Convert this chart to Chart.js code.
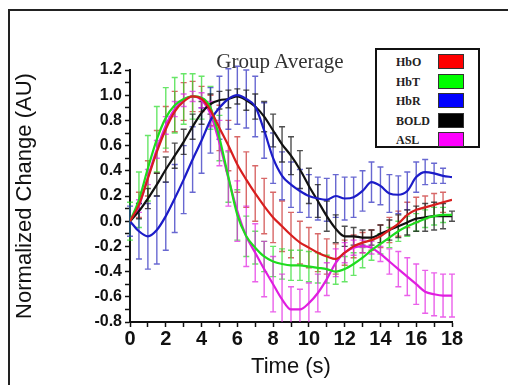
<!DOCTYPE html>
<html>
<head>
<meta charset="utf-8">
<script src="https://cdn.jsdelivr.net/npm/chart.js@4"></script>
<style>
  html, body { margin: 0; background: #fff; overflow: hidden; }
  #wrap { position: relative; width: 508px; height: 385px; overflow: hidden; }
  #title { position: absolute; left: 180px; width: 200px; top: 49px; text-align: center;
           font: 21px "Liberation Serif", "Times New Roman", serif; color: #333; }
  #legend { position: absolute; left: 375px; top: 48px; width: 101px; height: 96px;
            border: 2px solid #111; background: #fff; }
  .row { position: absolute; left: 0; height: 16px; width: 101px; }
  .row span { position: absolute; left: 19px; top: 1px; font: bold 12px "Liberation Serif", serif; color: #222; }
  .row i { position: absolute; left: 61px; top: 0; width: 24px; height: 13px; border: 1px solid #333; }
</style>
</head>
<body>
<div id="wrap">
  <canvas id="chart" width="508" height="385"></canvas>
  <div id="title">Group Average</div>
  <div id="legend"></div>
</div>
<script>
// time axis, every 0.5 s
const times = [0,0.5,1,1.5,2,2.5,3,3.5,4,4.5,5,5.5,6,6.5,7,7.5,8,8.5,9,9.5,10,10.5,11,11.5,12,12.5,13,13.5,14,14.5,15,15.5,16,16.5,17,17.5,18];

const hbo = [0,0.13,0.34,0.55,0.73,0.87,0.95,0.99,0.97,0.88,0.74,0.6,0.45,0.33,0.22,0.12,0.03,-0.04,-0.11,-0.17,-0.21,-0.25,-0.28,-0.3,-0.25,-0.2,-0.17,-0.15,-0.12,-0.07,-0.02,0.05,0.09,0.11,0.13,0.15,0.17];
const hbt = [0,0.17,0.42,0.65,0.82,0.92,0.97,0.99,0.98,0.9,0.66,0.35,0.05,-0.12,-0.21,-0.28,-0.32,-0.34,-0.35,-0.35,-0.36,-0.37,-0.38,-0.4,-0.38,-0.34,-0.29,-0.23,-0.18,-0.13,-0.08,-0.04,-0.01,0.02,0.04,0.05,0.05];
const hbr = [0,-0.08,-0.12,-0.07,0.04,0.18,0.33,0.49,0.64,0.8,0.9,0.97,1.0,0.97,0.91,0.72,0.5,0.36,0.29,0.24,0.2,0.18,0.17,0.2,0.18,0.19,0.24,0.31,0.28,0.22,0.21,0.24,0.35,0.39,0.38,0.36,0.35];
const bold = [0,0.08,0.18,0.29,0.41,0.52,0.63,0.75,0.86,0.93,0.96,0.97,0.99,0.96,0.91,0.83,0.72,0.61,0.52,0.41,0.28,0.16,0.04,-0.06,-0.12,-0.12,-0.13,-0.13,-0.1,-0.07,-0.04,-0.01,0.02,0.03,0.04,0.04,0.04];
const asl = [0,0.12,0.35,0.57,0.76,0.89,0.96,0.99,0.96,0.85,0.62,0.34,0.08,-0.12,-0.25,-0.38,-0.5,-0.62,-0.7,-0.7,-0.65,-0.57,-0.46,-0.33,-0.25,-0.21,-0.2,-0.21,-0.26,-0.32,-0.38,-0.44,-0.5,-0.56,-0.58,-0.59,-0.59];

// error bar half lengths
const hboErr = [0,0.1,0.14,0.17,0.18,0.16,0.15,0.12,0.1,0.12,0.18,0.2,0.22,0.22,0.22,0.22,0.2,0.2,0.18,0.17,0.16,0.15,0.14,0.12,0.1,0.09,0.08,0.08,0.09,0.1,0.1,0.1,0.1,0.09,0.09,0.08,0];
const hbtErr = [0.15,0.22,0.26,0.26,0.24,0.22,0.2,0.18,0.17,0.17,0.18,0.2,0.2,0.16,0.13,0.12,0.12,0.12,0.12,0.12,0.12,0.12,0.11,0.1,0.1,0.09,0.08,0.08,0.08,0.08,0.08,0.08,0.07,0.07,0.07,0.06,0];
const hbrErr = [0.12,0.22,0.26,0.27,0.27,0.27,0.27,0.26,0.26,0.26,0.25,0.24,0.23,0.23,0.24,0.22,0.2,0.19,0.18,0.17,0.17,0.17,0.17,0.17,0.17,0.16,0.16,0.16,0.15,0.15,0.15,0.15,0.12,0.1,0.08,0.06,0];
const boldErr = [0,0.06,0.08,0.09,0.1,0.1,0.1,0.1,0.09,0.08,0.07,0.07,0.06,0.08,0.1,0.12,0.13,0.14,0.15,0.15,0.14,0.13,0.12,0.11,0.08,0.07,0.06,0.06,0.07,0.08,0.09,0.1,0.1,0.11,0.11,0.1,0.04];
const aslErr = [0,0.05,0.06,0.07,0.07,0.06,0.05,0.04,0.06,0.1,0.18,0.22,0.24,0.24,0.23,0.22,0.22,0.2,0.18,0.16,0.16,0.15,0.13,0.11,0.08,0.06,0.05,0.05,0.06,0.1,0.14,0.15,0.16,0.17,0.17,0.17,0.17];

const names = ['HbO', 'HbT', 'HbR', 'BOLD', 'ASL'];
const series = [hbo, hbt, hbr, bold, asl];
const errs = [hboErr, hbtErr, hbrErr, boldErr, aslErr];
const swatch = ['#ff0000', '#00ff00', '#0000ff', '#000000', '#ff00ff'];
const lineCol = ['#d81e1e', '#1edc1e', '#1c1cc8', '#111111', '#e01ee0'];
const barCol = ['rgba(200,40,40,0.7)', 'rgba(40,220,40,0.7)', 'rgba(40,40,190,0.7)', 'rgba(20,20,20,0.75)', 'rgba(225,30,225,0.7)'];

const yTicks = [-0.8, -0.6, -0.4, -0.2, 0, 0.2, 0.4, 0.6, 0.8, 1.0, 1.2];
const xTicks = [0, 2, 4, 6, 8, 10, 12, 14, 16, 18];

// open frame round the figure (top and left edges only)
const frame = {
    id: 'frame',
    beforeDraw(chart) {
        const ctx = chart.ctx;
        ctx.save();
        ctx.strokeStyle = '#222';
        ctx.lineWidth = 2;
        ctx.beginPath();
        ctx.moveTo(9, chart.height);
        ctx.lineTo(9, 10);
        ctx.lineTo(chart.width, 10);
        ctx.stroke();
        ctx.restore();
    }
};

const errorBars = {
    id: 'errorBars',
    beforeDatasetsDraw(chart) {
        const ctx = chart.ctx;
        const ys = chart.scales.y;
        const area = chart.chartArea;
        ctx.save();
        ctx.beginPath();
        ctx.rect(area.left - 4, area.top - 10, area.right - area.left + 8, area.bottom - area.top + 10);
        ctx.clip();
        chart.data.datasets.forEach((ds, i) => {
            const meta = chart.getDatasetMeta(i);
            ctx.strokeStyle = ds.barColor;
            ctx.lineWidth = 1.4;
            meta.data.forEach((pt, j) => {
                const e = ds.errors[j];
                if (!e) return;
                const v = ds.data[j].y;
                const top = ys.getPixelForValue(v + e);
                const bot = ys.getPixelForValue(v - e);
                ctx.beginPath();
                ctx.moveTo(pt.x, top); ctx.lineTo(pt.x, bot);
                ctx.moveTo(pt.x - 3, top); ctx.lineTo(pt.x + 3, top);
                ctx.moveTo(pt.x - 3, bot); ctx.lineTo(pt.x + 3, bot);
                ctx.stroke();
            });
        });
        ctx.restore();
    }
};

const datasets = series.map((s, i) => ({
    label: names[i],
    data: times.map((t, j) => ({ x: t, y: s[j] })),
    errors: errs[i],
    barColor: barCol[i],
    borderColor: lineCol[i],
    borderWidth: 2.2,
    pointRadius: 0,
    cubicInterpolationMode: 'monotone',
    fill: false
}));

new Chart(document.getElementById('chart'), {
    type: 'line',
    data: { datasets: datasets },
    plugins: [frame, errorBars],
    options: {
        responsive: false,
        animation: false,
        layout: { padding: { left: 12, top: 70, right: 56, bottom: 5 } },
        plugins: { legend: { display: false }, title: { display: false }, tooltip: { enabled: false } },
        scales: {
            x: {
                type: 'linear',
                min: 0, max: 18,
                afterFit: (s) => { s.height = 58; },
                afterBuildTicks: (s) => { s.ticks = times.filter(t => t % 1 === 0).map(v => ({ value: v })); },
                ticks: {
                    autoSkip: false, maxRotation: 0, padding: 0,
                    color: '#111',
                    font: { family: '"Liberation Sans", Arial, sans-serif', size: 20, weight: 'bold' },
                    callback: (v) => xTicks.includes(v) ? String(v) : ''
                },
                grid: { drawOnChartArea: false, color: '#111', tickLength: 5, tickWidth: 1.5 },
                border: { color: '#111', width: 2 },
                title: {
                    display: true, text: 'Time (s)', color: '#111', padding: 0,
                    font: { family: '"Liberation Sans", Arial, sans-serif', size: 22 }
                }
            },
            y: {
                min: -0.8, max: 1.2,
                afterFit: (s) => { s.width = 118; },
                afterBuildTicks: (s) => {
                    const t = [];
                    for (let k = -8; k <= 12; k++) t.push({ value: k / 10 });
                    s.ticks = t;
                },
                ticks: {
                    autoSkip: false, padding: 3,
                    color: '#111',
                    font: { family: '"Liberation Sans", Arial, sans-serif', size: 16, weight: 'bold' },
                    callback: (v) => {
                        const hit = yTicks.find(y => Math.abs(y - v) < 1e-6);
                        return hit === undefined ? '' : hit.toFixed(1);
                    }
                },
                grid: { drawOnChartArea: false, color: '#111', tickLength: 5, tickWidth: 1.5 },
                border: { color: '#111', width: 2 },
                title: {
                    display: true, text: 'Normalized Change (AU)', color: '#111', padding: 0,
                    font: { family: '"Liberation Sans", Arial, sans-serif', size: 22 }
                }
            }
        }
    }
});

// legend box built from the series names and colours
const leg = document.getElementById('legend');
names.forEach((n, i) => {
    const r = document.createElement('div');
    r.className = 'row';
    r.style.top = (4 + i * 19.5) + 'px';
    r.innerHTML = '<span>' + n + '</span><i style="background:' + swatch[i] + '"></i>';
    leg.appendChild(r);
});
</script>
</body>
</html>
